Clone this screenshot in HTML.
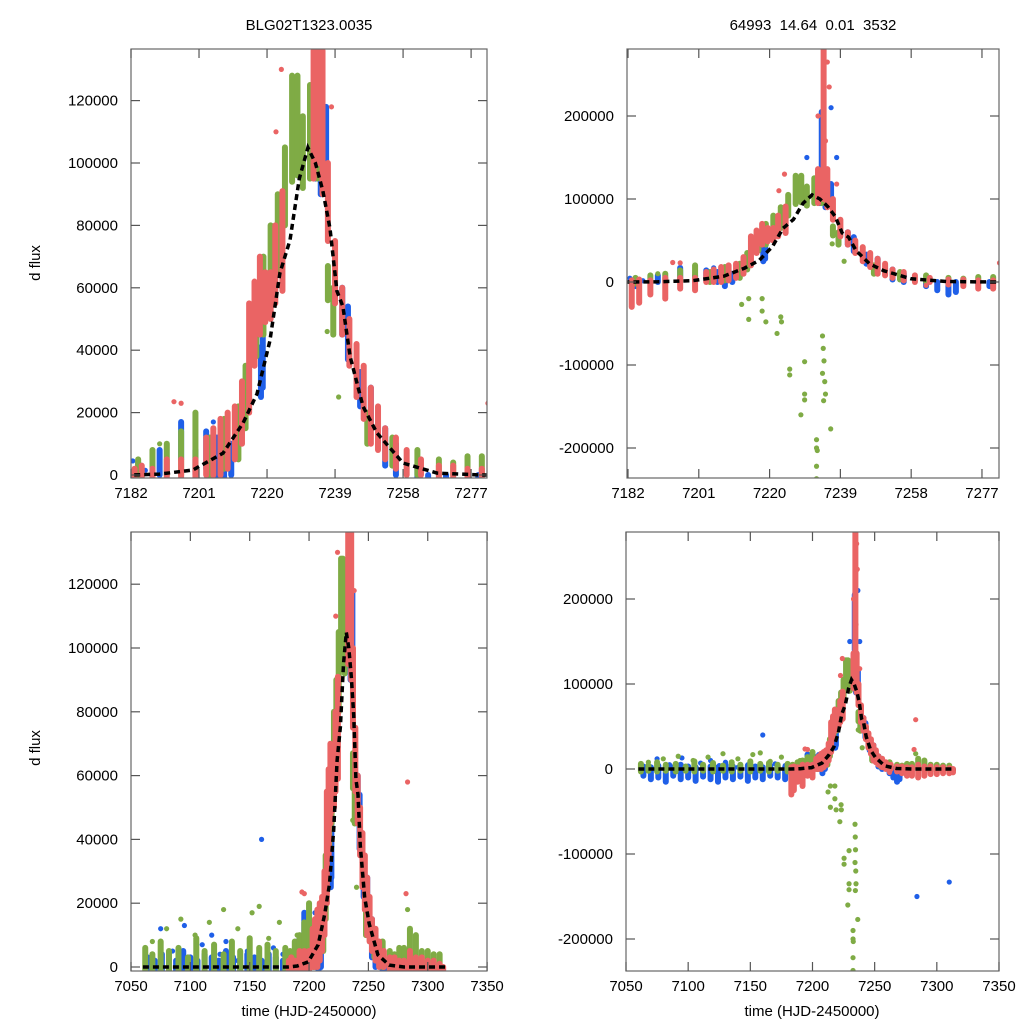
<!DOCTYPE html>
<html><head><meta charset="utf-8"><style>
html,body{margin:0;background:#fff;width:1024px;height:1024px;overflow:hidden;}
svg{display:block;font-family:"Liberation Sans",sans-serif;}
</style></head><body>
<svg id="chart" width="1024" height="1024" viewBox="0 0 1024 1024">
<rect width="1024" height="1024" fill="#fff"/>
<defs>
<clipPath id="c0"><rect x="131" y="49" width="356" height="429"/></clipPath>
<clipPath id="c1"><rect x="627" y="49" width="372" height="429"/></clipPath>
<clipPath id="c2"><rect x="131" y="532" width="356" height="439"/></clipPath>
<clipPath id="c3"><rect x="626" y="532" width="373" height="439"/></clipPath>
</defs>
<text x="309" y="30" text-anchor="middle" font-size="15">BLG02T1323.0035</text>
<text x="813" y="30" text-anchor="middle" font-size="15" xml:space="preserve">64993  14.64  0.01  3532</text>
<text transform="translate(40,263) rotate(-90)" text-anchor="middle" font-size="15">d flux</text>
<text transform="translate(40,748) rotate(-90)" text-anchor="middle" font-size="15">d flux</text>
<text x="309" y="1016" text-anchor="middle" font-size="15">time (HJD-2450000)</text>
<text x="812" y="1016" text-anchor="middle" font-size="15">time (HJD-2450000)</text>
</svg>
<script>
// model curve
const curveT=[7060,7150,7182,7190,7199.3,7207.7,7213.3,7217.2,7220.8,7223.6,7226.4,7229,7231.4,7233.5,7235.6,7237.6,7239.5,7241.2,7243.2,7246.8,7250.7,7258,7267.5,7280,7315];
const curveF=[0,0,0,300,1600,7000,16700,26000,43000,64700,75300,95000,104900,100000,91000,79000,59000,54000,38000,22000,13500,3800,600,0,0];
// blue series: dots and vertical scatter bands
const blueT=[7182.5,7186,7075,7085,7095,7100,7110,7118,7125,7130,7140,7148,7160,7170,7178,7205,7207,7209,7236.5,7238,7230,7246,7284,7310];
const blueF=[4500,1500,12000,5000,13000,3000,7000,10000,4000,8000,2000,5000,40000,6000,4000,17000,15000,11000,210000,150000,150000,33000,-150000,-133000];
const blueBandT=[7064,7070,7076,7082,7088,7094,7100,7106,7112,7118,7124,7130,7136,7142,7148,7154,7160,7166,7172,7178,7184,7190,7196,7200,7203,7206,7208,7210,7218.3,7218.8,7233.5,7234,7235,7236.5,7241,7242.6,7246,7249,7253,7256,7262,7265,7268,7270,7279];
const blueLo=[-8000,-12000,-10000,-15000,-8000,-12000,-10000,-14000,-9000,-12000,-15000,-10000,-12000,-9000,-14000,-10000,-12000,-8000,-10000,-12000,-5000,0,5000,0,2000,0,-5000,0,25000,28000,95000,140000,90000,95000,45000,37000,22000,15000,3000,0,-5000,-10000,-15000,-12000,-5000];
const blueHi=[3000,2000,4000,3000,2000,5000,3000,2000,4000,3000,2000,5000,3000,2000,4000,3000,2000,4000,3000,2000,4000,8000,17000,8000,14000,12000,15000,10000,41000,45000,125000,205000,120000,118000,60000,54000,33000,28000,15000,10000,3000,0,-3000,0,0];
// green series
const greenT=[7214.4,7214.4,7212.5,7218,7218,7219,7222,7223,7223.2,7225.4,7225.4,7229.4,7229.4,7229.4,7228.4,7232.6,7232.6,7232.8,7232.6,7232.6,7234.2,7234.4,7234.6,7234.2,7234.8,7235,7234.5,7236.4,7236.8,7068,7080,7092,7104,7116,7128,7140,7152,7158,7166,7175,7283,7240,7190];
const greenF=[-20000,-45000,-27000,-20000,-35000,-48000,-62000,-42000,-48000,-105000,-112000,-96000,-135000,-142000,-160000,-190000,-200000,-203000,-222000,-237000,-65000,-80000,-95000,-110000,-120000,-135000,-143000,-177000,46000,8000,12000,15000,10000,14000,18000,12000,17000,19000,9000,14000,18000,25000,10000];
const greenBandT=[7062,7068,7075,7082,7090,7098,7105,7112,7120,7128,7135,7142,7150,7158,7165,7172,7180,7184,7188,7192,7196,7200,7204,7208,7212,7214,7217,7219,7221,7223,7225,7227,7228.5,7230,7232,7234,7237,7238.5,7248,7255,7262,7268,7272,7276,7280,7285,7290,7295,7300,7305,7310];
const greenLo=[-3000,-2000,-3000,-2000,-3000,-2000,-3000,-2000,-3000,-2000,-3000,-2000,-3000,-2000,-3000,-2000,-3000,-2000,0,0,0,1000,0,2000,5000,15000,38000,45000,55000,65000,80000,94000,96000,92000,95000,95000,56000,45000,10000,3000,0,0,0,0,0,0,-3000,-2000,-3000,-2000,-2000];
const greenHi=[6000,4000,8000,5000,6000,3000,9000,5000,7000,4000,8000,5000,9000,6000,7000,5000,6000,5000,8000,10000,14000,20000,12000,18000,22000,35000,60000,70000,80000,90000,105000,128000,128000,115000,125000,123000,67000,60000,20000,12000,8000,5000,4000,6000,6000,12000,10000,5000,5000,4000,4000];
// red series
const redT=[7194,7196,7283,7281.7,7235.5,7236,7233,7235,7224,7222.5,7238,7262];
const redF=[23500,23000,58000,23000,265000,235000,200000,170000,130000,110000,118000,-4000];
const redBandT=[7183,7185,7188,7192,7196,7200,7203,7205,7207,7209,7211,7213,7215,7216.5,7218,7219.5,7221,7222.3,7224.3,7233,7234.5,7235.5,7237,7239,7241,7243,7245,7247,7249,7251,7253,7256,7259,7263,7268,7272,7276,7280,7285,7290,7295,7300,7305,7310,7313];
const redLo=[-30000,-25000,-15000,-20000,-8000,-10000,0,0,0,2000,5000,10000,20000,35000,45000,49000,50000,55000,59000,95000,100000,90000,75000,55000,45000,35000,25000,18000,10000,8000,5000,2000,0,0,-3000,-5000,-8000,-8000,-10000,-8000,-6000,-6000,-5000,-5000,-4000];
const redHi=[2000,3000,2000,5000,5000,5000,12000,15000,18000,20000,22000,30000,55000,62000,70000,65000,65000,80000,91000,136000,280000,136000,100000,75000,60000,50000,42000,35000,28000,22000,15000,12000,8000,5000,3000,3000,2000,2000,5000,3000,3000,2000,2000,1000,0];

const NS='http://www.w3.org/2000/svg';
const svg=document.getElementById('chart');
const panels=[
 {id:'top-left',clip:'c0',x0:131,x1:487,y0:49,y1:478,tx:t=>131+(t-7182)*3.58,fy:f=>475-f*0.00312,xt:[7182,7201,7220,7239,7258,7277],yt:[0,20000,40000,60000,80000,100000,120000]},
 {id:'top-right',clip:'c1',x0:627,x1:999,y0:49,y1:478,tx:t=>628+(t-7182)*3.726,fy:f=>282-f*0.00083,xt:[7182,7201,7220,7239,7258,7277],yt:[-200000,-100000,0,100000,200000]},
 {id:'bottom-left',clip:'c2',x0:131,x1:487,y0:532,y1:971,tx:t=>131+(t-7050)*1.187,fy:f=>967-f*0.00319,xt:[7050,7100,7150,7200,7250,7300,7350],yt:[0,20000,40000,60000,80000,100000,120000]},
 {id:'bottom-right',clip:'c3',x0:626,x1:999,y0:532,y1:971,tx:t=>626+(t-7050)*1.2433,fy:f=>769-f*0.00085,xt:[7050,7100,7150,7200,7250,7300,7350],yt:[-200000,-100000,0,100000,200000]}
];
const COL={blue:'#1f5fe8',green:'#7fab45',red:'#ea6464'};
function mk(tag,attrs,parent){const e=document.createElementNS(NS,tag);for(const k in attrs)e.setAttribute(k,attrs[k]);parent.appendChild(e);return e;}
panels.forEach(p=>{
 const g=mk('g',{},svg);
 
 
 const d=mk('g',{'clip-path':'url(#'+p.clip+')'},g);
 
 
 const series=[['blue',blueT,blueF,blueBandT,blueLo,blueHi],['green',greenT,greenF,greenBandT,greenLo,greenHi],['red',redT,redF,redBandT,redLo,redHi]];
 series.forEach(s=>{
  const c=COL[s[0]];
  s[3].forEach((t,i)=>{
   const l=mk('line',{x1:p.tx(t),x2:p.tx(t),y1:p.fy(s[4][i]),y2:p.fy(s[5][i]),stroke:c,'stroke-width':6,'stroke-linecap':'round'},d);
   
   
  });
  s[1].forEach((t,i)=>{
   const ci=mk('circle',{cx:p.tx(t),cy:p.fy(s[2][i]),r:2.6,fill:c},d);
   
   
  });
 });
 const pts=curveT.map((t,i)=>p.tx(t).toFixed(1)+','+p.fy(curveF[i]).toFixed(1)).join(' ');
 const pl=mk('polyline',{points:pts,fill:'none',stroke:'#000','stroke-width':3.5,'stroke-dasharray':'6,4'},d);
 
 
 const fr=mk('rect',{x:p.x0,y:p.y0,width:p.x1-p.x0,height:p.y1-p.y0,fill:'none',stroke:'#666','stroke-width':1.2},g);
 
 
 p.xt.forEach(v=>{
  const x=p.tx(v);
  mk('line',{x1:x,x2:x,y1:p.y1,y2:p.y1-9,stroke:'#555','stroke-width':1.2},g);
  mk('line',{x1:x,x2:x,y1:p.y0,y2:p.y0+9,stroke:'#555','stroke-width':1.2},g);
  const tx=mk('text',{x:x,y:p.y1+20,'text-anchor':'middle','font-size':15},g);
  tx.textContent=v;
  
  
 });
 p.yt.forEach(v=>{
  const y=p.fy(v);
  mk('line',{x1:p.x0,x2:p.x0+9,y1:y,y2:y,stroke:'#555','stroke-width':1.2},g);
  mk('line',{x1:p.x1,x2:p.x1-9,y1:y,y2:y,stroke:'#555','stroke-width':1.2},g);
  const ty=mk('text',{x:p.x0-13,y:y+5,'text-anchor':'end','font-size':15},g);
  ty.textContent=v;
  
  
 });
});
</script>
</body></html>
